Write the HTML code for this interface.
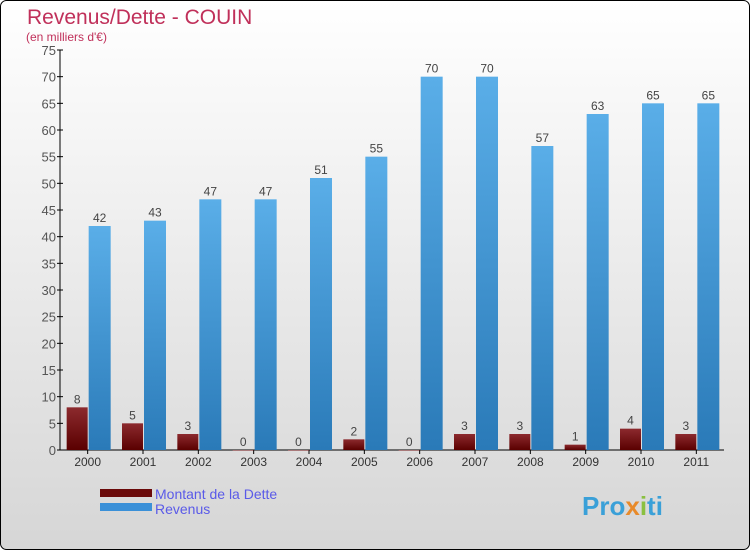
<!DOCTYPE html>
<html><head><meta charset="utf-8"><style>
body{margin:0;}
#c{width:750px;height:550px;position:relative;overflow:hidden;font-family:"Liberation Sans","DejaVu Sans",sans-serif;}
</style></head><body>
<div id="c">
<svg width="750" height="550" xmlns="http://www.w3.org/2000/svg">
<defs>
<linearGradient id="bg" x1="0" y1="0" x2="0" y2="1"><stop offset="0" stop-color="#ffffff"/><stop offset="1" stop-color="#d6d6d6"/></linearGradient>
<linearGradient id="gd" x1="0" y1="0" x2="0" y2="1"><stop offset="0" stop-color="#8c2a2e"/><stop offset="1" stop-color="#5a0000"/></linearGradient>
<linearGradient id="gr" x1="0" y1="0" x2="0" y2="1"><stop offset="0" stop-color="#5aaee8"/><stop offset="1" stop-color="#2a7ab8"/></linearGradient>
</defs>
<rect x="0.5" y="0.5" width="749" height="549" rx="6" fill="url(#bg)" stroke="#000"/>
<text x="27" y="24" font-size="21" fill="#c0305a">Revenus/Dette - COUIN</text>
<text x="26" y="41" font-size="12" fill="#c0305a">(en milliers d'€)</text>
<g id="axes"></g>
<g id="bars"></g>
<g>
<rect x="100" y="489" width="52" height="8" fill="#6a0a0a"/>
<text x="155" y="499" font-size="14" fill="#5a5ae8">Montant de la Dette</text>
<rect x="100" y="503" width="52" height="8" fill="#3a90d8"/>
<text x="155" y="514" font-size="14" fill="#5a5ae8">Revenus</text>
</g>
<text x="582" y="515" font-size="26" font-weight="bold" fill="#3aa0d8">Pro<tspan fill="#e88a2a">x</tspan><tspan fill="#8ac040">i</tspan>ti</text>
</svg>
</div>
<script>
const categories=["2000","2001","2002","2003","2004","2005","2006","2007","2008","2009","2010","2011"];
const debtValues=[8,5,3,0,0,2,0,3,3,1,4,3];
const revenueValues=[42,43,47,47,51,55,70,70,57,63,65,65];
const yTicks=[0,5,10,15,20,25,30,35,40,45,50,55,60,65,70,75];
const NS="http://www.w3.org/2000/svg";
const x0=60,x1=724,y0=450,yTop=50,yMax=75;
const bw=(x1-x0)/categories.length;
function yS(v){return y0-(v/yMax)*(y0-yTop);}
function xC(i){return x0+bw*(i+0.5);}
function mk(tag,attrs,parent,txt){const e=document.createElementNS(NS,tag);for(const k in attrs)e.setAttribute(k,attrs[k]);if(txt!==undefined)e.textContent=txt;parent.appendChild(e);return e;}
const ax=document.getElementById('axes'),bars=document.getElementById('bars');
let l=mk('line',{x1:x0,y1:yS(yMax),x2:x0,y2:y0,stroke:'#000'},ax);


l=mk('line',{x1:x0,y1:y0,x2:x1,y2:y0,stroke:'#000'},ax);


yTicks.forEach(t=>{
 const y=yS(t);
 let tk=mk('line',{x1:x0-3,y1:y,x2:x0+3,y2:y,stroke:'#000'},ax);
 
 
 let tx=mk('text',{x:x0-4,y:y+5,'font-size':13,fill:'#555','text-anchor':'end'},ax,t);
 
 
});
categories.forEach((c,i)=>{
 const cx=xC(i);
 let tk=mk('line',{x1:cx,y1:y0,x2:cx,y2:y0+4,stroke:'#000'},ax);
 
 
 let tx=mk('text',{x:cx,y:y0+16,'font-size':12,fill:'#333','text-anchor':'middle'},ax,c);
 
 
 const d=debtValues[i],r=revenueValues[i];
 let b=mk('rect',{x:cx-21,y:yS(d),width:21,height:Math.max(0.5,y0-yS(d)),fill:'url(#gd)'},bars);
 
 
 let bl=mk('text',{x:cx-10.5,y:yS(d)-4,'font-size':12,fill:'#444','text-anchor':'middle'},bars,d);
 
 
 b=mk('rect',{x:cx+1,y:yS(r),width:22,height:y0-yS(r),fill:'url(#gr)'},bars);
 
 
 bl=mk('text',{x:cx+12,y:yS(r)-4,'font-size':12,fill:'#444','text-anchor':'middle'},bars,r);
 
 
});
</script>
</body></html>
